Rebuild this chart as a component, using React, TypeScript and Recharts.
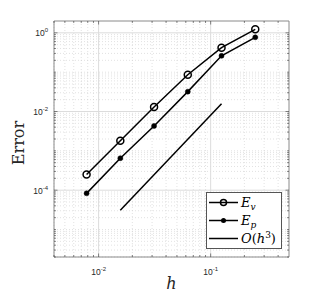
import { LineChart, Line, XAxis, YAxis, CartesianGrid, ReferenceArea } from "recharts";

// mesh sizes and measured errors
const hValues = [0.0078125, 0.015625, 0.03125, 0.0625, 0.125, 0.25];
const errorV = [2.5e-4, 1.8e-3, 1.3e-2, 8.6e-2, 0.42, 1.23];
const errorP = [8.3e-5, 6.5e-4, 4.3e-3, 3.2e-2, 0.26, 0.77];

// O(h^3) reference segment
const refH = [0.015625, 0.125];
const refError = [3.1e-5, 1.58e-2];

const xMajorTicks = [0.01, 0.1];
const xMinorTicks = [
  0.004, 0.005, 0.006, 0.007, 0.008, 0.009, 0.02, 0.03, 0.04, 0.05, 0.06, 0.07, 0.08, 0.09, 0.2,
  0.3, 0.4,
];
const yMajorTicks = [1e-4, 1e-2, 1];
const yMinorTicks = [
  2e-6, 3e-6, 4e-6, 5e-6, 6e-6, 7e-6, 8e-6, 9e-6, 1e-5, 2e-5, 3e-5, 4e-5, 5e-5, 6e-5, 7e-5, 8e-5,
  9e-5, 2e-4, 3e-4, 4e-4, 5e-4, 6e-4, 7e-4, 8e-4, 9e-4, 1e-3, 2e-3, 3e-3, 4e-3, 5e-3, 6e-3, 7e-3,
  8e-3, 9e-3, 2e-2, 3e-2, 4e-2, 5e-2, 6e-2, 7e-2, 8e-2, 9e-2, 1e-1, 0.2, 0.3, 0.4, 0.5, 0.6, 0.7,
  0.8, 0.9,
];

const vData = hValues.map((h, i) => ({ h, e: errorV[i] }));
const pData = hValues.map((h, i) => ({ h, e: errorP[i] }));
const refData = refH.map((h, i) => ({ h, e: refError[i] }));

const W = 332;
const H = 295;
const TOP = 21;
const RIGHT = 43;
const Y_AXIS_W = 54;
const X_AXIS_H = 38;
const PLOT_RIGHT = W - RIGHT;

const AXIS = "#3a3a3a";
const BOX = "#8a8a8a";
const SERIF = "'DejaVu Serif', serif";
const SANS = "'Liberation Sans', Arial, sans-serif";

function XTick(props: any) {
  const { x, y, payload } = props;
  const v = payload.value;
  const major = xMajorTicks.includes(v);
  const len = major ? 3.5 : 2;
  return (
    <g>
      <line x1={x} x2={x} y1={y} y2={y - len} stroke={AXIS} strokeWidth={0.6} />
      <line x1={x} x2={x} y1={TOP} y2={TOP + len} stroke={AXIS} strokeWidth={0.6} />
      {major && (
        <text x={x} y={y + 18} textAnchor="middle" fontFamily={SANS} fontSize={8.5} fill="#262626">
          10
          <tspan dy={-4} fontSize={6}>
            {Math.round(Math.log10(v))}
          </tspan>
        </text>
      )}
    </g>
  );
}

function YTick(props: any) {
  const { x, y, payload } = props;
  const v = payload.value;
  const major = yMajorTicks.includes(v);
  const len = major ? 3.5 : 2;
  return (
    <g>
      <line x1={x} x2={x + len} y1={y} y2={y} stroke={AXIS} strokeWidth={0.6} />
      <line x1={PLOT_RIGHT - len} x2={PLOT_RIGHT} y1={y} y2={y} stroke={AXIS} strokeWidth={0.6} />
      {major && (
        <text x={x - 6} y={y + 3.5} textAnchor="end" fontFamily={SANS} fontSize={8.5} fill="#262626">
          10
          <tspan dy={-4} fontSize={6}>
            {Math.round(Math.log10(v))}
          </tspan>
        </text>
      )}
    </g>
  );
}

function Legend() {
  const rows = [10.5, 28.5, 46.5];
  return (
    <svg
      width={78}
      height={59}
      style={{ position: "absolute", left: 205, top: 191 }}
    >
      <rect x={1.5} y={1.5} width={75} height={56} fill="#fff" stroke="#555" strokeWidth={1} />
      <line x1={4} x2={33} y1={rows[0] + 1} y2={rows[0] + 1} stroke="#000" strokeWidth={1.5} />
      <circle cx={18.5} cy={rows[0] + 1} r={3} fill="none" stroke="#000" strokeWidth={1.5} />
      <line x1={4} x2={33} y1={rows[1] + 1} y2={rows[1] + 1} stroke="#000" strokeWidth={1.5} />
      <circle cx={18.5} cy={rows[1] + 1} r={2.5} fill="#000" />
      <line x1={4} x2={33} y1={rows[2] + 1} y2={rows[2] + 1} stroke="#000" strokeWidth={1.5} />
      <text x={36} y={rows[0] + 5.5} fontFamily={SERIF} fontSize={13} fontStyle="italic">
        E
        <tspan dy={3} fontSize={9}>
          v
        </tspan>
      </text>
      <text x={36} y={rows[1] + 5.5} fontFamily={SERIF} fontSize={13} fontStyle="italic">
        E
        <tspan dy={3} fontSize={9}>
          p
        </tspan>
      </text>
      <text x={36} y={rows[2] + 5.5} fontFamily={SERIF} fontSize={13} fontStyle="italic">
        O<tspan fontStyle="normal">(</tspan>h
        <tspan dy={-5} fontSize={9} fontStyle="normal">
          3
        </tspan>
        <tspan dy={5} fontStyle="normal">
          )
        </tspan>
      </text>
    </svg>
  );
}

export default function App() {
  return (
    <div style={{ position: "absolute", left: 0, top: 0, width: W, height: H, background: "#fff" }}>
      <LineChart
        width={W}
        height={H}
        margin={{ top: TOP, right: RIGHT, bottom: 0, left: 0 }}
      >
        <CartesianGrid
          horizontalValues={yMinorTicks}
          verticalValues={xMinorTicks}
          stroke="#cfcfcf"
          strokeWidth={0.6}
          strokeDasharray="1 2"
        />
        <CartesianGrid
          horizontalValues={yMajorTicks}
          verticalValues={xMajorTicks}
          stroke="#dcdcdc"
          strokeWidth={1}
        />
        <XAxis
          dataKey="h"
          type="number"
          scale="log"
          domain={[0.004, 0.5]}
          allowDataOverflow
          ticks={[...xMajorTicks, ...xMinorTicks]}
          interval={0}
          tick={XTick}
          tickLine={false}
          axisLine={false}
          tickSize={0}
          tickMargin={0}
          height={X_AXIS_H}
          label={(p: any) => {
            const vb = p.viewBox ?? { x: Y_AXIS_W, y: H - X_AXIS_H, width: PLOT_RIGHT - Y_AXIS_W };
            return (
              <text
                x={vb.x + vb.width / 2}
                y={vb.y + 32}
                textAnchor="middle"
                fontFamily={SERIF}
                fontStyle="italic"
                fontSize={16}
                fill="#262626"
              >
                h
              </text>
            );
          }}
        />
        <YAxis
          type="number"
          scale="log"
          domain={[2e-6, 2]}
          allowDataOverflow
          ticks={[...yMajorTicks, ...yMinorTicks]}
          interval={0}
          tick={YTick}
          tickLine={false}
          axisLine={false}
          tickSize={0}
          tickMargin={0}
          width={Y_AXIS_W}
          label={(p: any) => {
            const vb = p.viewBox ?? { x: 0, y: TOP, height: H - X_AXIS_H - TOP };
            const cx = vb.x + 24;
            const cy = vb.y + vb.height / 2 + 4;
            return (
              <text
                x={cx}
                y={cy}
                transform={`rotate(-90 ${cx} ${cy})`}
                textAnchor="middle"
                fontFamily={SERIF}
                fontSize={16}
                fill="#262626"
              >
                Error
              </text>
            );
          }}
        />
        <ReferenceArea
          x1={0.004}
          x2={0.5}
          y1={2e-6}
          y2={2}
          fill="none"
          stroke={BOX}
          strokeWidth={1}
        />
        <Line
          data={refData}
          dataKey="e"
          stroke="#000"
          strokeWidth={1.5}
          dot={false}
          isAnimationActive={false}
        />
        <Line
          data={pData}
          dataKey="e"
          stroke="#000"
          strokeWidth={1.5}
          dot={{ r: 2.5, fill: "#000", stroke: "#000", strokeWidth: 0.5 }}
          isAnimationActive={false}
        />
        <Line
          data={vData}
          dataKey="e"
          stroke="#000"
          strokeWidth={1.5}
          dot={{ r: 3.5, fill: "none", stroke: "#000", strokeWidth: 1.5 }}
          isAnimationActive={false}
        />
      </LineChart>
      <Legend />
    </div>
  );
}
